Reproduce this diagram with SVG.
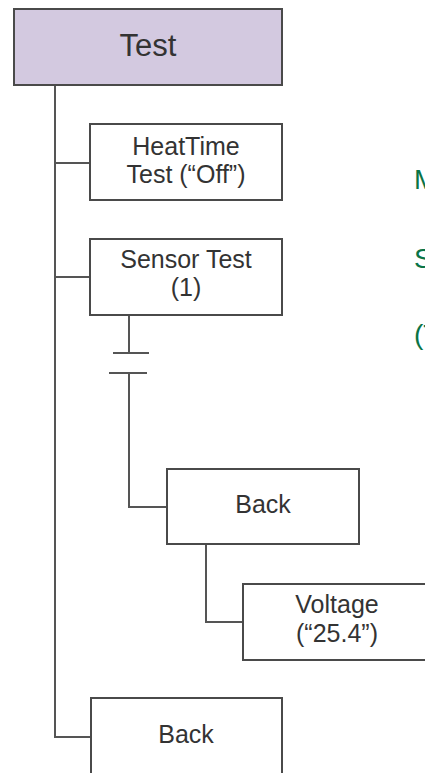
<svg xmlns="http://www.w3.org/2000/svg" width="425" height="773" viewBox="0 0 425 773">
<style>
.box{fill:#ffffff;stroke:#4a4a4a;stroke-width:2}
.title{fill:#d3c9e0;stroke:#4a4a4a;stroke-width:2}
.lbl{font-family:"Liberation Sans",Arial,sans-serif;font-size:25px;fill:#333333;text-anchor:middle}
.big{font-size:31px}
.wire{fill:none;stroke:#555555;stroke-width:2}
.note{font-family:"Liberation Sans",Arial,sans-serif;font-size:28px;fill:#0a7446}
</style>
<rect width="425" height="773" fill="#ffffff"/>
<g id="connectors">
<path class="wire" d="M55 85 V737 H91"/>
<path class="wire" d="M55 163 H90"/>
<path class="wire" d="M55 277 H90"/>
<path class="wire" d="M129 315 V353 M113 353 H149 M109 373 H147 M129 373 V507 H167"/>
<path class="wire" d="M206 544 V622 H243"/>
</g>
<g id="node-test">
<rect class="title" x="14" y="9" width="268" height="76"/>
<text class="lbl big" x="148" y="56">Test</text>
</g>
<g id="node-heattime">
<rect class="box" x="90" y="124" width="192" height="76"/>
<text class="lbl" x="186" y="155">HeatTime</text>
<text class="lbl" x="186" y="183">Test (“Off”)</text>
</g>
<g id="node-sensor">
<rect class="box" x="90" y="239" width="192" height="76"/>
<text class="lbl" x="186" y="268">Sensor Test</text>
<text class="lbl" x="186" y="296">(1)</text>
</g>
<g id="node-back1">
<rect class="box" x="167" y="469" width="192" height="75"/>
<text class="lbl" x="263" y="513">Back</text>
</g>
<g id="node-voltage">
<rect class="box" x="243" y="584" width="192" height="76"/>
<text class="lbl" x="337" y="613">Voltage</text>
<text class="lbl" x="337" y="642">(“25.4”)</text>
</g>
<g id="node-back2">
<rect class="box" x="91" y="698" width="191" height="80"/>
<text class="lbl" x="186" y="743">Back</text>
</g>
<g id="notes">
<text class="note" x="414" y="189">M</text>
<text class="note" x="414" y="268">S</text>
<text class="note" x="414" y="344">(T</text>
</g>
</svg>
